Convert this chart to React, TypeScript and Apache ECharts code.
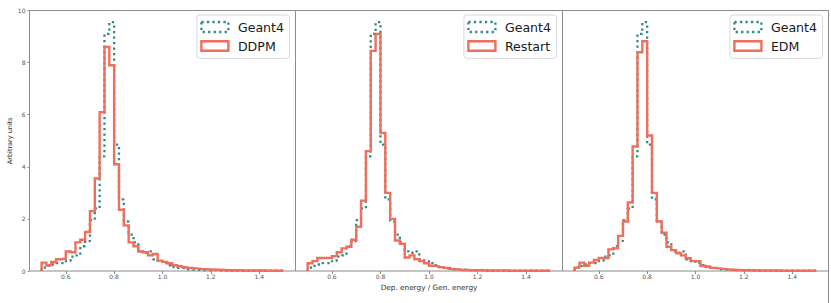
import React, { useEffect, useRef } from "react";
import * as echarts from "echarts";

// Histogram bins: 50 bins from 0.50 to 1.50
const binStart = 0.5;
const binWidth = 0.02;
const xTicks = [0.6, 0.8, 1.0, 1.2, 1.4];
const yTicks = [0, 2, 4, 6, 8, 10];
const panelNames = ["DDPM", "Restart", "EDM"];
const refName = "Geant4";
const xLabel = "Dep. energy / Gen. energy";
const yLabel = "Arbitrary units";

const geant4 = [
  0.13, 0.2, 0.25, 0.3, 0.3, 0.38, 0.55, 0.6, 0.95, 1.15,
  1.95, 2.4, 4.4, 9.1, 9.55, 4.85, 2.75, 1.9, 1.4, 1.1,
  0.75, 0.7, 0.75, 0.45, 0.38, 0.3, 0.22, 0.15, 0.12, 0.1,
  0.06, 0.05, 0.04, 0.03, 0.03, 0.04, 0.02, 0.02, 0.02, 0.01,
  0.01, 0.01, 0.01, 0.01, 0.01, 0.01, 0.01, 0.01, 0.01, 0.01,
];
const ddpm = [
  0.32, 0.22, 0.35, 0.45, 0.47, 0.75, 0.72, 1.1, 1.2, 1.5,
  2.3, 3.55, 6.1, 8.6, 7.9, 4.1, 2.35, 1.75, 1.1, 0.95,
  0.75, 0.72, 0.6, 0.65, 0.4, 0.35, 0.3, 0.22, 0.18, 0.15,
  0.12, 0.1, 0.08, 0.07, 0.06, 0.05, 0.05, 0.04, 0.03, 0.03,
  0.03, 0.02, 0.02, 0.02, 0.02, 0.02, 0.01, 0.01, 0.01, 0.01,
];
const restart = [
  0.3, 0.38, 0.5, 0.5, 0.5, 0.57, 0.72, 0.87, 0.93, 1.2,
  1.7, 2.7, 4.6, 8.45, 9.1, 5.3, 3.0, 2.0, 1.17, 1.04,
  0.52, 0.6, 0.45, 0.38, 0.3, 0.2, 0.18, 0.15, 0.12, 0.08,
  0.06, 0.04, 0.04, 0.03, 0.03, 0.03, 0.02, 0.02, 0.02, 0.02,
  0.02, 0.01, 0.01, 0.01, 0.01, 0.01, 0.01, 0.01, 0.01, 0.01,
];
const edm = [
  0.13, 0.32, 0.2, 0.32, 0.42, 0.5, 0.5, 0.83, 0.87, 1.35,
  1.9, 2.63, 4.78, 8.4, 8.82, 5.2, 3.0, 1.9, 1.47, 0.93,
  0.8, 0.68, 0.6, 0.49, 0.38, 0.38, 0.2, 0.17, 0.12, 0.1,
  0.08, 0.06, 0.05, 0.04, 0.03, 0.03, 0.03, 0.02, 0.02, 0.02,
  0.02, 0.02, 0.01, 0.01, 0.01, 0.01, 0.01, 0.01, 0.01, 0.01,
];
const modelSeries = [ddpm, restart, edm];

const TEAL = "#2f8a87";
const RED = "#ef6e5c";
const SPINE = "#8c8c8c";
const FONT = "DejaVu Sans";

function stepData(vals: number[]) {
  const pts: number[][] = [[binStart, 0]];
  vals.forEach((v, i) => pts.push([+(binStart + i * binWidth).toFixed(4), v]));
  pts.push([+(binStart + vals.length * binWidth).toFixed(4), 0]);
  return pts;
}

const TOP = 10.5;
const HEIGHT = 260.5;
const panels = [
  { left: 29.5, width: 266 },
  { left: 295.5, width: 267 },
  { left: 562.5, width: 266 },
];

export default function App() {
  const ref = useRef<HTMLDivElement>(null);
  useEffect(() => {
    if (!ref.current) return;
    const chart = echarts.init(ref.current, undefined, { renderer: "svg" });

    const grid = panels.map((p) => ({
      left: p.left,
      top: TOP,
      width: p.width,
      height: HEIGHT,
      show: true,
      borderColor: SPINE,
      borderWidth: 1,
      backgroundColor: "transparent",
    }));

    const xAxis = panels.map((_, i) => ({
      type: "value",
      gridIndex: i,
      min: 0.45,
      max: 1.55,
      splitLine: { show: false },
      axisLine: { show: false },
      axisTick: {
        show: true,
        length: 3,
        lineStyle: { color: SPINE },
        customValues: xTicks,
      },
      axisLabel: {
        fontSize: 6,
        color: "#555",
        fontFamily: FONT,
        margin: 2,
        customValues: xTicks,
        formatter: (v: number) => v.toFixed(1),
      },
      name: i === 1 ? xLabel : "",
      nameLocation: "middle",
      nameGap: 12,
      nameTextStyle: { fontSize: 7.3, color: "#333", fontFamily: FONT },
    }));

    const yAxis = panels.map((_, i) => ({
      type: "value",
      gridIndex: i,
      min: 0,
      max: 10,
      interval: 2,
      splitLine: { show: false },
      axisLine: { show: false },
      axisTick: {
        show: i === 0,
        length: 2,
        lineStyle: { color: SPINE },
      },
      axisLabel: {
        show: i === 0,
        fontSize: 6,
        color: "#555",
        fontFamily: FONT,
        margin: 4,
        customValues: yTicks,
      },
      name: i === 0 ? yLabel : "",
      nameLocation: "middle",
      nameGap: 14,
      nameTextStyle: { fontSize: 6.5, color: "#333", fontFamily: FONT },
    }));

    const series: any[] = [];
    panels.forEach((_, i) => {
      series.push({
        type: "line",
        name: refName,
        xAxisIndex: i,
        yAxisIndex: i,
        step: "end",
        symbol: "none",
        silent: true,
        data: stepData(geant4),
        lineStyle: { color: TEAL, width: 2.3, type: [2.3, 3.2], cap: "butt" },
        z: 2,
      });
      series.push({
        type: "line",
        name: panelNames[i],
        xAxisIndex: i,
        yAxisIndex: i,
        step: "end",
        symbol: "none",
        silent: true,
        data: stepData(modelSeries[i]),
        lineStyle: { color: RED, width: 2.4, join: "miter" },
        z: 3,
      });
    });

    const graphic: any[] = [];
    panels.forEach((p, i) => {
      const right = p.left + p.width;
      const bx = right - 6 - 92.6;
      graphic.push({
        type: "rect",
        shape: { x: bx, y: 15, width: 92.6, height: 43.3, r: 3 },
        style: { fill: "rgba(255,255,255,0.85)", stroke: "#d9d9d9", lineWidth: 1 },
        z: 100,
      });
      graphic.push({
        type: "rect",
        shape: { x: bx + 4.5, y: 22, width: 27, height: 10 },
        style: { fill: "none", stroke: TEAL, lineWidth: 2.3, lineDash: [2.3, 3.2] },
        z: 101,
      });
      graphic.push({
        type: "rect",
        shape: { x: bx + 4.5, y: 41.3, width: 27, height: 9.4 },
        style: { fill: "none", stroke: RED, lineWidth: 2.4 },
        z: 101,
      });
      graphic.push({
        type: "text",
        x: bx + 41,
        y: 27.3,
        style: {
          text: refName,
          fontSize: 12.6,
          fontFamily: FONT,
          fill: "#1a1a1a",
          verticalAlign: "middle",
        },
        z: 101,
      });
      graphic.push({
        type: "text",
        x: bx + 41,
        y: 46,
        style: {
          text: panelNames[i],
          fontSize: 12.6,
          fontFamily: FONT,
          fill: "#1a1a1a",
          verticalAlign: "middle",
        },
        z: 101,
      });
    });
    const lastRight = panels[2].left + panels[2].width;
    graphic.push({
      type: "line",
      shape: { x1: lastRight, y1: TOP + HEIGHT, x2: lastRight, y2: 303 },
      style: { stroke: SPINE, lineWidth: 1 },
    });

    chart.setOption({
      animation: false,
      backgroundColor: "#ffffff",
      grid,
      xAxis,
      yAxis,
      series,
      graphic,
    });
    return () => chart.dispose();
  }, []);

  return (
    <div
      ref={ref}
      style={{ position: "fixed", left: 0, top: 0, width: 831, height: 303 }}
    />
  );
}
